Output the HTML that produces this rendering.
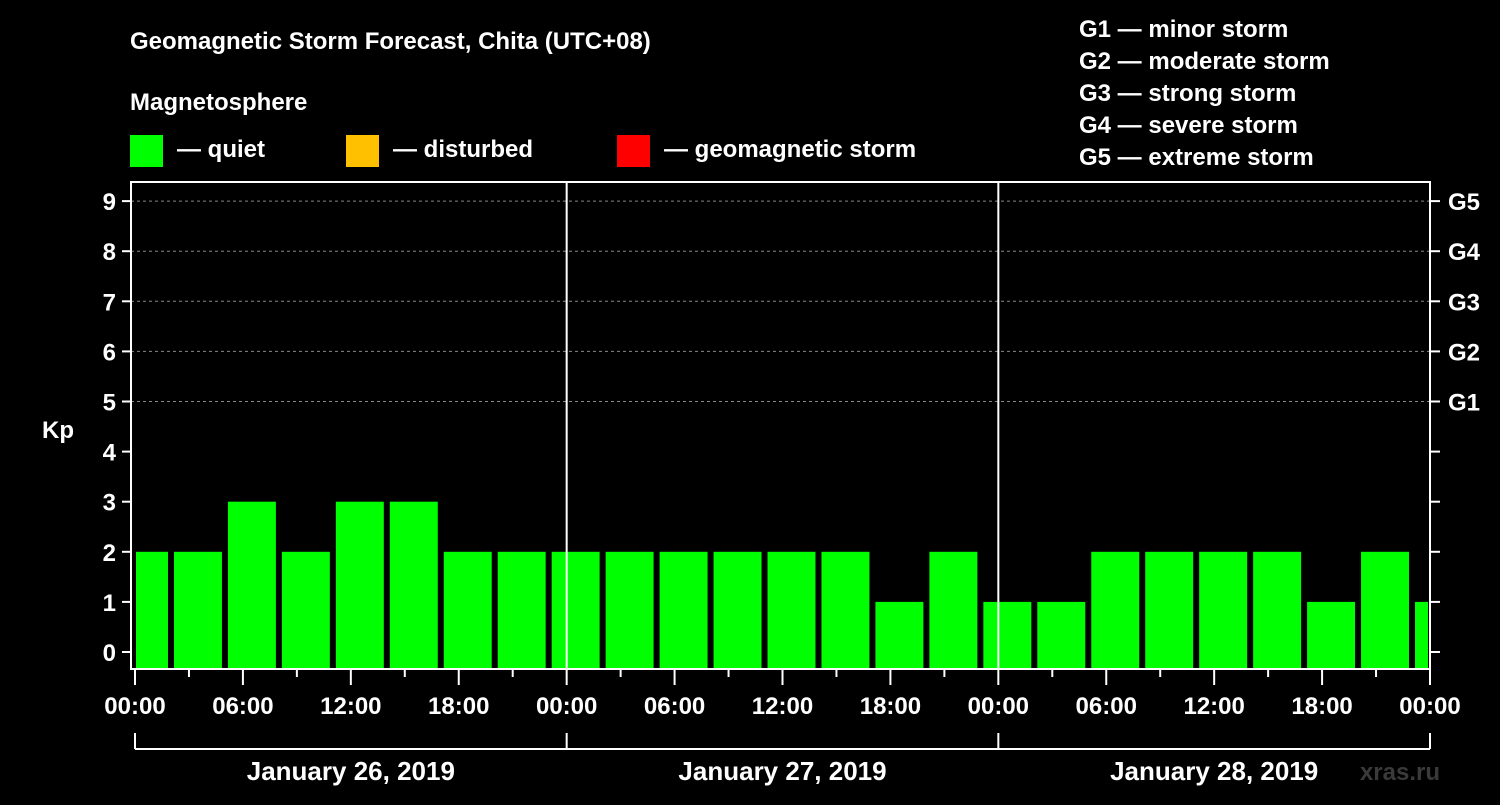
<!DOCTYPE html>
<html><head><meta charset="utf-8"><style>
body{margin:0;background:#000;}
svg text{font-family:"Liberation Sans",sans-serif;font-weight:bold;fill:#fff;}
</style></head><body>
<svg id="c" width="1500" height="800">
<rect width="1500" height="800" fill="#000"/>
<text x="130" y="49" font-size="24">Geomagnetic Storm Forecast, Chita (UTC+08)</text>
<text x="130" y="110" font-size="24">Magnetosphere</text>
<g><rect x="130" y="135" width="33" height="32" fill="#00ff00"/><text x="177" y="157" font-size="24">— quiet</text></g>
<g><rect x="346" y="135" width="33" height="32" fill="#ffc000"/><text x="393" y="157" font-size="24">— disturbed</text></g>
<g><rect x="617" y="135" width="33" height="32" fill="#ff0000"/><text x="664" y="157" font-size="24">— geomagnetic storm</text></g>
<g font-size="24">
<text x="1079" y="37">G1 — minor storm</text><text x="1079" y="69">G2 — moderate storm</text><text x="1079" y="101">G3 — strong storm</text><text x="1079" y="133">G4 — severe storm</text><text x="1079" y="165">G5 — extreme storm</text></g>
<text x="42" y="438" font-size="24">Kp</text>
<text x="1440" y="780" font-size="24" text-anchor="end" fill="#444" style="fill:#3a3a3a">xras.ru</text>
<g id="plot"></g>
</svg>
<script>
const kpValues=[2,2,3,2,3,3,2,2,2,2,2,2,2,2,1,2,1,1,2,2,2,2,1,2,1];
const yTicks=[0,1,2,3,4,5,6,7,8,9];
const gLabels=["G1","G2","G3","G4","G5"];
const dayLabels=["January 26, 2019","January 27, 2019","January 28, 2019"];
const hourLabels=["00:00","06:00","12:00","18:00"];
const NS="http://www.w3.org/2000/svg";
const g=document.getElementById('plot');
const L=131,R=1430,T=182,B=669,X0=135,X1=1430;
const xs=h=>X0+(X1-X0)*h/72;
const ys=v=>652-v*50.1;
function mk(t,a){const e=document.createElementNS(NS,t);for(const k in a)e.setAttribute(k,a[k]);g.appendChild(e);return e;}
// grid
for(let v=5;v<=9;v++){const e=mk('line',{x1:L,x2:R,y1:ys(v),y2:ys(v),stroke:'#888','stroke-dasharray':'3,3','stroke-width':1});

}
// bars
kpValues.forEach((v,i)=>{const s=-1+3*i;let x1=xs(s)+3,x2=xs(s+3)-3;x1=Math.max(x1,136);x2=Math.min(x2,1428);
const col=v>=5?'#ff0000':(v>=4?'#ffc000':'#00ff00');
const r=mk('rect',{x:x1,y:ys(v),width:x2-x1,height:B-ys(v),fill:col});

});
// frame
const f=mk('rect',{x:L,y:T,width:R-L,height:B-T,fill:'none',stroke:'#fff','stroke-width':2});


[1,2].forEach(d=>{const e=mk('line',{x1:xs(24*d),x2:xs(24*d),y1:T,y2:B,stroke:'#fff','stroke-width':2});

});
// y ticks
yTicks.forEach(v=>{mk('line',{x1:122,x2:L,y1:ys(v),y2:ys(v),stroke:'#fff','stroke-width':2});
mk('line',{x1:R,x2:1440,y1:ys(v),y2:ys(v),stroke:'#fff','stroke-width':2});
const t=mk('text',{x:116,y:ys(v)+9,'font-size':24,'text-anchor':'end'});t.textContent=v;

});
gLabels.forEach((s,i)=>{const t=mk('text',{x:1448,y:ys(5+i)+9,'font-size':24});t.textContent=s;

});
// x ticks
for(let h=0;h<=72;h+=3){mk('line',{x1:xs(h),x2:xs(h),y1:B,y2:h%6==0?685:677,stroke:'#fff','stroke-width':2});}
for(let h=0;h<=72;h+=6){const t=mk('text',{x:xs(h),y:714,'font-size':24,'text-anchor':'middle'});t.textContent=hourLabels[(h/6)%4];

}
// day bracket
mk('line',{x1:X0,x2:X1,y1:749,y2:749,stroke:'#fff','stroke-width':2});
for(let d=0;d<=3;d++)mk('line',{x1:xs(24*d),x2:xs(24*d),y1:733,y2:749,stroke:'#fff','stroke-width':2});
dayLabels.forEach((s,i)=>{const t=mk('text',{x:xs(24*i+12),y:780,'font-size':26,'text-anchor':'middle'});t.textContent=s;

});
</script>
</body></html>
